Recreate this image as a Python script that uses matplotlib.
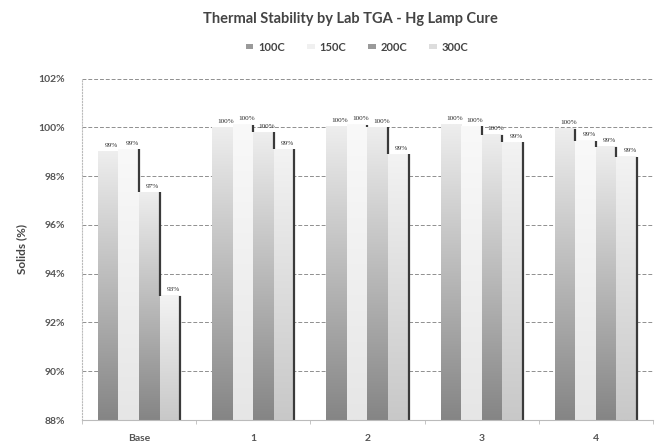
import numpy as np
import matplotlib
matplotlib.use("Agg")
import matplotlib.pyplot as plt
from matplotlib.colors import LinearSegmentedColormap
from matplotlib.patches import Patch

# data (solids %)
groups = ["Base", "1", "2", "3", "4"]
series = ["100C", "150C", "200C", "300C"]
v100 = [99.0, 100.0, 100.05, 100.1, 99.95]
v150 = [99.1, 100.1, 100.1, 100.05, 99.45]
v200 = [97.35, 99.8, 100.0, 99.7, 99.2]
v300 = [93.1, 99.1, 98.9, 99.4, 98.8]
yticks = [88, 90, 92, 94, 96, 98, 100, 102]

# bottom / top gradient colours per series
grads = [("#858585", "#eeeeee"), ("#e6e6e6", "#f9f9f9"),
         ("#858585", "#eeeeee"), ("#c8c8c8", "#f3f3f3")]
legend_colors = ["#9a9a9a", "#f0f0f0", "#9a9a9a", "#dddddd"]

plt.rcParams['font.family'] = ['Lato', 'DejaVu Sans']

fig = plt.figure(figsize=(6.55, 4.48), dpi=100)
ax = fig.add_axes([0.125, 0.0625, 0.872, 0.762])

ymin, ymax = 88, 102
x = np.arange(len(groups))
w = 0.18
vals = [v100, v150, v200, v300]

grad = np.linspace(0, 1, 256).reshape(-1, 1)
bars_all = []
for k, (name, v) in enumerate(zip(series, vals)):
    heights = [val - ymin for val in v]
    bars = ax.bar(x + (k - 1.5) * w, heights, w, bottom=ymin,
                  facecolor="none", edgecolor="none", zorder=2)
    cmap = LinearSegmentedColormap.from_list(name, list(grads[k]))
    for r in bars:
        bx, by, bw, bh = r.get_x(), r.get_y(), r.get_width(), r.get_height()
        ax.imshow(grad, extent=[bx, bx + bw, by, by + bh], origin="lower",
                  cmap=cmap, aspect="auto", zorder=2, interpolation="bilinear")
    bars_all.append(bars)

# dark right-edge "shadow" lines, down to next bar top
for g in range(len(groups)):
    for k in range(4):
        r = bars_all[k][g]
        top = vals[k][g]
        low = vals[k + 1][g] if k < 3 else ymin
        if low < top - 0.05:
            ex = r.get_x() + r.get_width()
            ax.vlines(ex, low, top, color="#3a3a3a", lw=1.6, zorder=3)

# data labels
for k in range(4):
    for g, r in enumerate(bars_all[k]):
        v = vals[k][g]
        ax.annotate(f"{v:.0f}%", (r.get_x() + r.get_width() / 2 + 0.03, v),
                    xytext=(0, 2.5), textcoords="offset points", ha="center",
                    va="bottom", fontsize=5.2, family="Liberation Serif",
                    color="#2a2a2a", zorder=4)

ax.set_xlim(-0.5, len(groups) - 0.5)
ax.set_ylim(ymin, ymax)
ax.set_yticks(yticks)
ax.set_yticklabels([f"{t}%" for t in yticks])
ax.set_xticks(x)
ax.set_xticklabels(groups)
ax.set_xticks(np.arange(-0.5, len(groups)), minor=True)
ax.tick_params(axis="both", which="major", length=0, labelsize=7.5,
               colors="#555555")
ax.tick_params(axis="x", which="minor", length=3, color="#bbbbbb")
ax.tick_params(axis="x", pad=10)
ax.tick_params(axis="y", pad=12)
for t in ax.get_xticklabels() + ax.get_yticklabels():
    t.set_fontweight("bold")

ax.grid(axis="y", color="#8f8f8f", linestyle=(0, (4, 2)), lw=0.7, zorder=1)
ax.set_axisbelow(True)
for s in ["top", "right"]:
    ax.spines[s].set_visible(False)
ax.spines["left"].set_color("#bbbbbb")
ax.spines["left"].set_linestyle(":")
ax.spines["bottom"].set_color("#bbbbbb")
ax.spines["bottom"].set_zorder(5)

ax.set_ylabel("Solids (%)", fontsize=8.5, color="#444444", fontweight="bold",
              labelpad=8)

fig.text(0.535, 0.958, "Thermal Stability by Lab TGA - Hg Lamp Cure",
         ha="center", va="center", fontsize=10.5, fontweight="bold",
         color="#444444")

handles = [Patch(facecolor=c, edgecolor="none") for c in legend_colors]
fig.legend(handles, series, loc="center", bbox_to_anchor=(0.545, 0.895),
           ncol=4, frameon=False, handlelength=0.7,
           handleheight=0.4, columnspacing=2.0, handletextpad=0.4,
           labelcolor="#444444", prop={"weight": "bold", "size": 8})

fig.savefig("out.png", dpi=100)
